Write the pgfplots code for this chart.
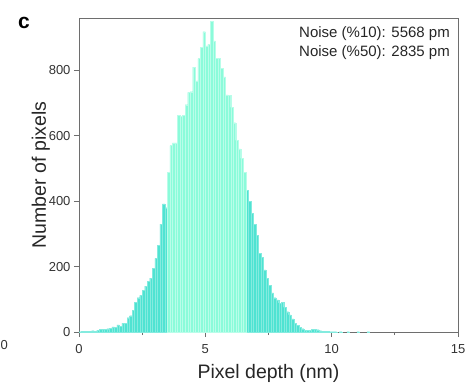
\documentclass[border=0pt]{standalone}
\usepackage{pgfplots}
\pgfplotsset{compat=1.18}
\usepackage{fontspec}
\setmainfont{Liberation Sans}
\setsansfont{Liberation Sans}
\definecolor{darkaq}{HTML}{4FE3D2}
\definecolor{lightaq}{HTML}{8BFBDA}
\definecolor{axgray}{HTML}{6E6E6E}
\begin{document}
\begin{tikzpicture}
\path[use as bounding box] (-79pt,-52pt) rectangle (386pt,332pt);
\begin{axis}[
  at={(0,0)}, anchor=south west,
  width=379pt, height=314pt, scale only axis,
  xmin=0, xmax=15, ymin=0, ymax=960,
  xtick={0,5,10,15}, minor xtick={2.5,7.5,12.5},
  ytick={0,200,400,600,800},
  tick align=outside,
  major tick length=5pt, minor tick length=3pt,
  xtick pos=bottom, ytick pos=left,
  axis line style={axgray, line width=0.8pt},
  tick style={axgray, line width=0.8pt},
  every tick label/.append style={font=\fontsize{13}{14}\selectfont, text=black!80},
  /pgf/number format/assume math mode=true,
  xticklabel style={yshift=-4pt},
  xlabel={Pixel depth (nm)}, ylabel={Number of pixels},
  label style={font=\fontsize{19.5}{21}\selectfont, text=black!85},
  xlabel style={yshift=-4pt},
  ylabel style={yshift=-8pt},
  ybar, bar width=0.1, bar shift=0pt,
  clip=true,
]
\addplot[fill=darkaq, draw=darkaq!70!white, line width=0.2pt] coordinates {
(0.05,1) (0.15,2) (0.25,3) (0.35,2) (0.45,3) (0.55,4) (0.65,3) (0.75,5) (0.85,8) (0.95,9)
(1.05,8) (1.15,10) (1.25,12) (1.35,16) (1.45,14) (1.55,22) (1.65,18) (1.75,27) (1.85,26) (1.95,44)
(2.05,50) (2.15,67) (2.25,90) (2.35,105) (2.45,112) (2.55,128) (2.65,140) (2.75,155) (2.85,165) (2.95,195)
(3.05,225) (3.15,265) (3.25,330) (3.35,392) (3.45,380)
(6.65,434) (6.75,400) (6.85,363) (6.95,330) (7.05,296) (7.15,240) (7.25,229) (7.35,190) (7.45,165) (7.55,143)
(7.65,120) (7.75,105) (7.85,98) (7.95,88) (8.05,90) (8.15,75) (8.25,62) (8.35,52) (8.45,40) (8.55,27)
(8.65,20) (8.75,15) (8.85,10) (8.95,6) (9.05,6) (9.15,5) (9.25,8) (9.35,9) (9.45,7) (9.55,4)
(9.65,3) (9.75,3) (9.85,2) (9.95,1) (10.05,1) (10.15,1) (10.35,1) (10.65,1) (11.05,1) (11.45,1)
};
\addplot[fill=lightaq, draw=lightaq!60!white, line width=0.2pt] coordinates {
(3.55,489) (3.65,570) (3.75,578) (3.85,578) (3.95,662) (4.05,660) (4.15,662) (4.25,695) (4.35,733) (4.45,735)
(4.55,810) (4.65,768) (4.75,836) (4.85,870) (4.95,918) (5.05,875) (5.15,880) (5.25,950) (5.35,890) (5.45,836)
(5.55,836) (5.65,806) (5.75,780) (5.85,725) (5.95,723) (6.05,687) (6.15,640) (6.25,586) (6.35,560) (6.45,531)
(6.55,489)
};
\end{axis}
\node[anchor=north east, font=\fontsize{15}{19}\selectfont, align=right, text=black!85, inner sep=0pt] at (371pt,306pt) {Noise (\%10): 5568 pm\\Noise (\%50): 2835 pm};
\node[anchor=base, font=\bfseries\fontsize{21}{22}\selectfont, inner sep=0pt] at (-55pt,304pt) {c};
\node[anchor=east, font=\fontsize{13}{14}\selectfont, text=black!80, inner sep=0pt] at (-71pt,-13pt) {0};
\end{tikzpicture}
\end{document}
